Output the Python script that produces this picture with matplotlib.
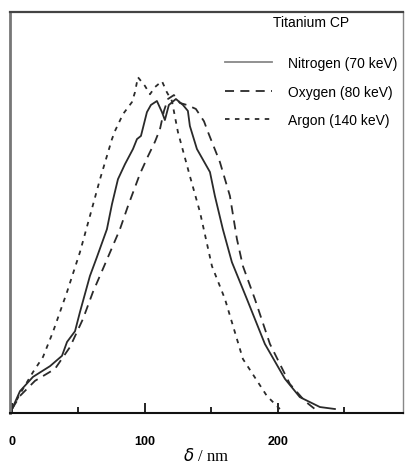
import matplotlib
matplotlib.use("Agg")
import matplotlib.pyplot as plt
from matplotlib.lines import Line2D

# ---- data (depth in nm, normalised intensity) ----
argon_x = [0, 6, 15.8, 23.3, 30.8, 41.4, 51.1, 58.6, 66.2, 75.2, 77.4, 83.5, 90.2, 92.5, 94.7,
           100, 103.8, 107.5, 112.8, 116.5, 120.3, 124.8, 133.8, 141.4, 150.4, 160.2, 173.7,
           191.7, 201.5]
argon_y = [0, 0.038, 0.093, 0.131, 0.194, 0.295, 0.395, 0.486, 0.579, 0.680, 0.700, 0.743, 0.773,
           0.798, 0.836, 0.814, 0.793, 0.811, 0.826, 0.798, 0.776, 0.698, 0.587, 0.496, 0.360,
           0.277, 0.126, 0.033, 0]

oxygen_x = [0, 6, 17.3, 32.3, 43.6, 53.4, 60.9, 68.4, 81.2, 87.2, 96.2, 102.3, 107.5, 111.3,
            114.3, 117.3, 121.8, 126.3, 131.6, 138.3, 144.4, 147.4, 156.4, 163.9, 169.2, 173.7,
            182.7, 194, 209, 220.3, 227.8]
oxygen_y = [0, 0.033, 0.071, 0.101, 0.156, 0.227, 0.295, 0.353, 0.453, 0.511, 0.592, 0.637,
            0.673, 0.705, 0.751, 0.781, 0.791, 0.771, 0.766, 0.756, 0.725, 0.698, 0.622, 0.537,
            0.428, 0.360, 0.277, 0.164, 0.063, 0.020, 0]

nitrogen_x = [0, 6, 15.8, 28.6, 37.6, 41.4, 47.4, 51.1, 58.6, 63.9, 71.4, 75.2, 79.7, 85, 91,
              94, 97, 101.5, 104.5, 109, 112.8, 115, 118, 123.3, 128.6, 132.3, 133.8, 139.1,
              148.9, 152.6, 158.6, 165.4, 176.7, 190.2, 205.3, 216.5, 231.6, 242.9]
nitrogen_y = [0, 0.045, 0.081, 0.108, 0.134, 0.169, 0.196, 0.244, 0.335, 0.383, 0.453, 0.516,
              0.579, 0.617, 0.655, 0.680, 0.688, 0.748, 0.766, 0.776, 0.748, 0.728, 0.766, 0.781,
              0.766, 0.751, 0.713, 0.655, 0.597, 0.537, 0.453, 0.370, 0.277, 0.164, 0.076, 0.030,
              0.005, 0]

labels = ["Nitrogen (70 keV)", "Oxygen (80 keV)", "Argon (140 keV)"]
legend_title = "Titanium CP"
xticks = [0, 100, 200]
xtick_labels = ["0", "100", "200"]
minor_ticks = [50, 150, 250]

fig = plt.figure(figsize=(4.05, 4.64), dpi=100)
ax = fig.add_axes([0.0247, 0.1078, 0.970, 0.864])

lc = "#2a2a2a"
ax.plot(nitrogen_x, nitrogen_y, color=lc, lw=1.3, ls="-")
ax.plot(oxygen_x, oxygen_y, color=lc, lw=1.3, ls=(0, (5, 3.5)))
ax.plot(argon_x, argon_y, color=lc, lw=1.3, ls=(0, (2.5, 3)))

ax.set_xlim(-1.5, 294)
ax.set_ylim(-0.01, 1.0)
ax.set_yticks([])
ax.set_xticks(xticks)
ax.set_xticklabels(xtick_labels, fontsize=9, family="Liberation Sans", weight="bold")
ax.set_xticks(minor_ticks, minor=True)
ax.tick_params(axis="x", which="major", direction="in", length=7, width=1.2, pad=16)
ax.tick_params(axis="x", which="minor", direction="in", length=4, width=1.2)

ax.spines["left"].set_color("#777777")
ax.spines["left"].set_linewidth(2.0)
ax.spines["bottom"].set_color("#111111")
ax.spines["bottom"].set_linewidth(1.5)
ax.spines["top"].set_color("#444444")
ax.spines["top"].set_linewidth(1.6)
ax.spines["right"].set_color("#888888")
ax.spines["right"].set_linewidth(1.0)

ax.set_xlabel(r"$\delta$ / nm", family="Liberation Serif", fontsize=12, labelpad=0)

handles = [Line2D([], [], color="#888888", lw=1.3, ls="-"),
           Line2D([], [], color=lc, lw=1.3, ls=(0, (5, 3.5))),
           Line2D([], [], color=lc, lw=1.3, ls=(0, (2.5, 3)))]
leg = ax.legend(handles, labels, loc="upper left", bbox_to_anchor=(0.532, 0.904),
                frameon=False, handlelength=3.4, handletextpad=1.2, labelspacing=1.05,
                prop={"family": "Liberation Sans", "size": 10}, borderaxespad=0)
ax.text(0.67, 0.975, legend_title, transform=ax.transAxes, ha="left", va="center",
        family="Liberation Sans", fontsize=10)

fig.savefig("out.png", dpi=100)
